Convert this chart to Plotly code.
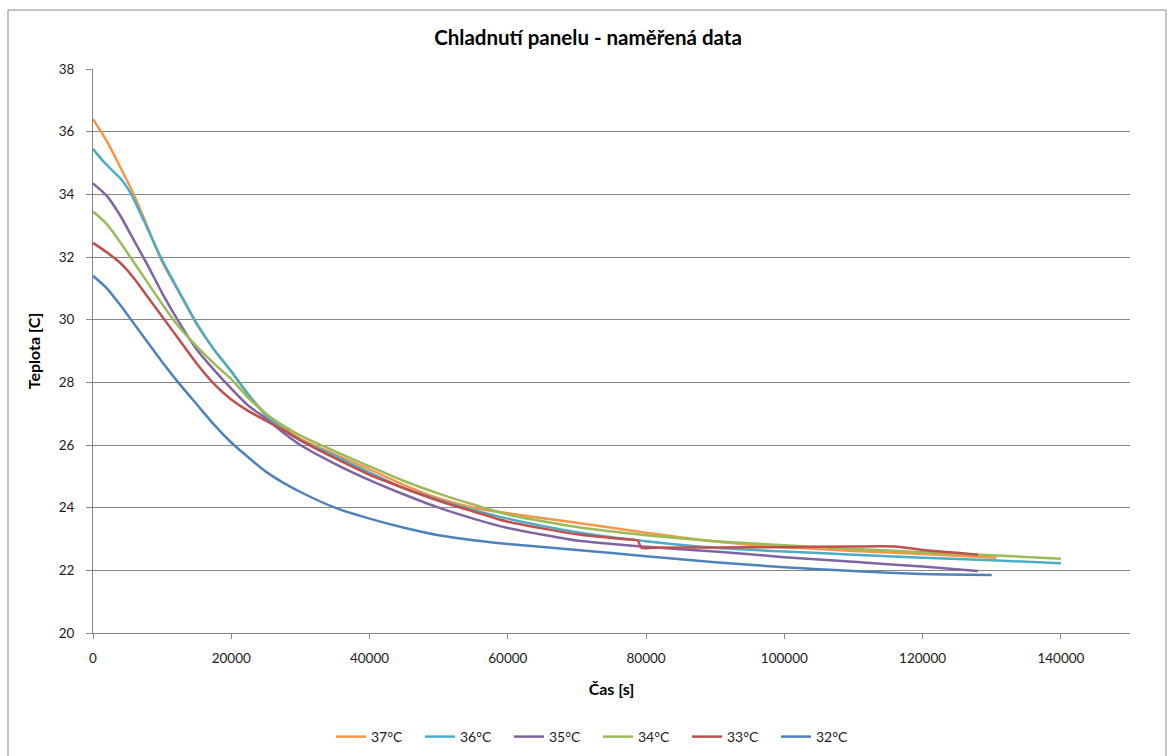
import plotly.graph_objects as go

# ---- data ----
labels = ["37°C", "36°C", "35°C", "34°C", "33°C", "32°C"]
colors = ["#F79646", "#4BACC6", "#8064A2", "#9BBB59", "#C0504D", "#4F81BD"]

x_37 = [0, 2000, 4000, 6000, 8000, 10000, 12500, 15000, 17500, 20000, 22500, 25000, 27500, 30000,
        35000, 40000, 45000, 50000, 55000, 60000, 70000, 80000, 90000, 100000, 110000, 120000, 130700]
t_37 = [36.4, 35.7, 34.85, 33.95, 32.9, 31.85, 30.85, 29.85, 29.05, 28.35, 27.6, 27.0, 26.55, 26.2,
        25.7, 25.22, 24.72, 24.3, 24.0, 23.82, 23.52, 23.2, 22.92, 22.74, 22.62, 22.52, 22.4]

x_36 = [0, 1500, 3000, 4000, 5000, 6000, 8000, 10000, 12500, 15000, 17500, 20000, 22500, 25000, 27500,
        30000, 35000, 40000, 45000, 50000, 55000, 60000, 70000, 80000, 90000, 100000, 110000, 120000,
        130000, 140000]
t_36 = [35.45, 35.05, 34.72, 34.5, 34.2, 33.8, 32.85, 31.9, 30.88, 29.88, 29.05, 28.35, 27.6, 26.95, 26.5,
        26.15, 25.65, 25.12, 24.62, 24.25, 23.93, 23.65, 23.22, 22.93, 22.72, 22.6, 22.5, 22.4,
        22.32, 22.23]

x_35 = [0, 2000, 4000, 6000, 8000, 10000, 12500, 15000, 17500, 20000, 22500, 25000, 27500, 30000,
        35000, 40000, 45000, 50000, 55000, 60000, 70000, 80000, 90000, 100000, 110000, 120000, 128000]
t_35 = [34.35, 33.95, 33.3, 32.5, 31.7, 30.85, 29.9, 29.05, 28.4, 27.8, 27.25, 26.85, 26.4, 26.0,
        25.4, 24.88, 24.42, 24.0, 23.65, 23.35, 22.95, 22.75, 22.6, 22.42, 22.27, 22.12, 21.98]

x_34 = [0, 2000, 4000, 6000, 8000, 10000, 12500, 15000, 17500, 20000, 22500, 25000, 27500, 30000,
        35000, 40000, 45000, 50000, 55000, 60000, 70000, 80000, 90000, 100000, 110000, 120000, 130000,
        140000]
t_34 = [33.45, 33.05, 32.45, 31.8, 31.15, 30.5, 29.75, 29.15, 28.6, 28.1, 27.5, 27.0, 26.62, 26.3,
        25.8, 25.32, 24.85, 24.45, 24.1, 23.78, 23.38, 23.12, 22.93, 22.8, 22.68, 22.58, 22.48,
        22.37]

x_33 = [0, 2000, 4000, 6000, 8000, 10000, 12500, 15000, 17500, 20000, 22500, 25000, 27500, 30000,
        35000, 40000, 45000, 50000, 55000, 60000, 70000, 77000, 78800, 79300, 81000, 90000, 100000,
        110000, 116000, 120000, 125000, 128000]
t_33 = [32.45, 32.15, 31.8, 31.3, 30.7, 30.1, 29.35, 28.6, 27.95, 27.45, 27.08, 26.78, 26.48, 26.15,
        25.58, 25.05, 24.62, 24.22, 23.88, 23.55, 23.15, 22.99, 22.95, 22.72, 22.72, 22.73, 22.74,
        22.76, 22.76, 22.65, 22.56, 22.5]

x_32 = [0, 2000, 4000, 6000, 8000, 10000, 12500, 15000, 17500, 20000, 22500, 25000, 27500, 30000,
        35000, 40000, 45000, 50000, 55000, 60000, 70000, 80000, 90000, 100000, 110000, 120000, 130000]
t_32 = [31.4, 31.0, 30.45, 29.85, 29.25, 28.65, 27.95, 27.3, 26.65, 26.08, 25.6, 25.15, 24.8, 24.5,
        24.0, 23.65, 23.36, 23.12, 22.96, 22.84, 22.65, 22.45, 22.26, 22.1, 21.98, 21.88, 21.85]

xs = [x_37, x_36, x_35, x_34, x_33, x_32]
ts = [t_37, t_36, t_35, t_34, t_33, t_32]

FONT = "Lato"
GRID = "#868686"

fig = go.Figure()
for lab, col, x, t in zip(labels, colors, xs, ts):
    fig.add_trace(go.Scatter(x=x, y=t, mode="lines", name=lab,
                             line=dict(color=col, width=2.5, shape="spline", smoothing=0.6)))

fig.update_layout(
    width=1170, height=756,
    margin=dict(l=93, r=40, t=69, b=123),
    paper_bgcolor="white", plot_bgcolor="white",
    font=dict(family=FONT, size=13, color="#1a1a1a"),
    title=dict(text="<b>Chladnutí panelu - naměřená data</b>", x=588 / 1170, xref="container",
               xanchor="center", y=1 - 38 / 756, yref="container", yanchor="middle",
               font=dict(family=FONT, size=20.5, color="#000000")),
    showlegend=True,
    legend=dict(orientation="h", x=598 / 1170, xref="container", xanchor="center",
                y=19 / 756, yref="container", yanchor="middle",
                font=dict(family=FONT, size=14, color="#1a1a1a"),
                itemwidth=30, entrywidth=44, entrywidthmode="pixels",
                bgcolor="rgba(0,0,0,0)"),
    xaxis=dict(range=[0, 150000], tickmode="linear", tick0=0, dtick=20000,
               showgrid=False, zeroline=False, showline=True, linecolor=GRID, linewidth=1,
               ticks="outside", ticklen=5, tickcolor=GRID, ticklabelstandoff=8,
               tickformat="d", tickfont=dict(family=FONT, size=13.5, color="#1a1a1a"),
               title=dict(text="<b>Čas [s]</b>", font=dict(family=FONT, size=16, color="#000000"),
                          standoff=18)),
    yaxis=dict(range=[20, 38], tickmode="linear", tick0=20, dtick=2,
               showgrid=True, gridcolor=GRID, gridwidth=1, zeroline=False,
               showline=True, linecolor=GRID, linewidth=1,
               ticks="outside", ticklen=6, tickcolor=GRID, ticklabelstandoff=9,
               tickfont=dict(family=FONT, size=13.5, color="#1a1a1a"),
               title=dict(text="<b>Teplota [C]</b>", font=dict(family=FONT, size=16, color="#000000"),
                          standoff=14)),
)

# outer chart border like the Excel chart area
fig.add_shape(type="rect", xref="paper", yref="paper",
              x0=(8 - 93) / 1037, x1=(1166 - 93) / 1037,
              y0=(633 - 800) / 564, y1=(633 - 10) / 564,
              line=dict(color="#8a8a8a", width=1), fillcolor="rgba(0,0,0,0)", layer="below")

fig.write_html("out.html", config={"displayModeBar": False},
               post_script="document.body.style.margin='0';")
